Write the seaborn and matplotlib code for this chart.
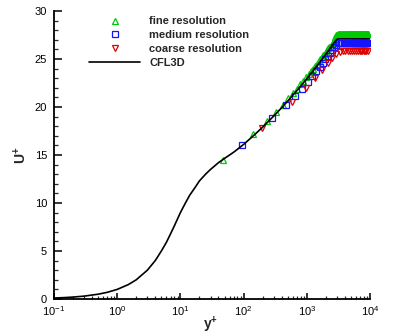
import matplotlib
matplotlib.use("Agg")
import matplotlib.pyplot as plt
import seaborn as sns
import pandas as pd
from matplotlib.ticker import LogLocator, MultipleLocator

# ---------------- data ----------------
cfl3d_yplus = [0.1, 0.15, 0.2, 0.3, 0.5, 0.7, 1.0, 1.5, 2.0, 3.0, 4.0, 5.0, 6.0, 7.0, 8.0,
               10, 12, 14, 17, 20, 25, 30, 40, 50, 70, 100, 150, 200, 300, 400, 500, 700,
               1000, 1300, 1600, 2000, 2400, 2700, 2900, 3000, 3200, 4000, 5000, 7000, 10000]
cfl3d_uplus = [0.1, 0.15, 0.2, 0.3, 0.5, 0.7, 1.0, 1.5, 2.0, 3.0, 4.0, 5.0, 5.9, 6.8, 7.6,
               9.0, 10.0, 10.8, 11.6, 12.3, 13.0, 13.5, 14.2, 14.65, 15.3, 16.1, 17.13, 17.9,
               19.06, 19.92, 20.63, 21.73, 22.95, 23.89, 24.65, 25.5, 26.21, 26.67, 26.96,
               27.05, 27.1, 27.1, 27.1, 27.1, 27.1]

fine_yplus = [47, 140, 233, 326, 419, 512, 605, 698, 791, 884, 977, 1070, 1163, 1256, 1349,
              1442, 1535, 1628, 1721, 1814, 1907, 2000, 2093, 2186, 2279, 2372, 2465, 2558,
              2651, 2744, 2837, 2930, 3023, 3116, 3209, 3302, 3395, 3488, 3581, 3674, 3767,
              3860, 3953, 4046, 4139, 4232, 4325, 4418, 4511, 4604, 4697, 4790, 4883, 4976,
              5069, 5162, 5255, 5348, 5441, 5534, 5627, 5720, 5813, 5906, 5999, 6092, 6185,
              6278, 6371, 6464, 6557, 6650, 6743, 6836, 6929, 7022, 7115, 7208, 7301, 7394,
              7487, 7580, 7673, 7766, 7859, 7952, 8045, 8138, 8231, 8324, 8417, 8510, 8603,
              8696, 8789, 8882, 8975, 9068, 9161, 9254]
fine_uplus = [14.5, 17.2, 18.5, 19.5, 20.2, 20.9, 21.45, 21.9, 22.35, 22.75, 23.1, 23.45,
              23.75, 24.0, 24.3, 24.5, 24.75, 24.95, 25.2, 25.4, 25.55, 25.75, 25.9, 26.1,
              26.25, 26.4, 26.55, 26.7, 26.85, 27.05, 27.25, 27.45, 27.55, 27.6, 27.6, 27.6,
              27.6, 27.6, 27.6, 27.6, 27.6, 27.6, 27.6, 27.6, 27.6, 27.6, 27.6, 27.6, 27.6,
              27.6, 27.6, 27.6, 27.6, 27.6, 27.6, 27.6, 27.6, 27.6, 27.6, 27.6, 27.6, 27.6,
              27.6, 27.6, 27.6, 27.6, 27.6, 27.6, 27.6, 27.6, 27.6, 27.6, 27.6, 27.6, 27.6,
              27.6, 27.6, 27.6, 27.6, 27.6, 27.6, 27.6, 27.6, 27.6, 27.6, 27.6, 27.6, 27.6,
              27.6, 27.6, 27.6, 27.6, 27.6, 27.6, 27.6, 27.6, 27.6, 27.6, 27.6, 27.6]

medium_yplus = [93, 280, 467, 654, 841, 1028, 1215, 1402, 1589, 1776, 1963, 2150, 2337, 2524,
                2711, 2898, 3085, 3272, 3459, 3646, 3833, 4020, 4207, 4394, 4581, 4768, 4955,
                5142, 5329, 5516, 5703, 5890, 6077, 6264, 6451, 6638, 6825, 7012, 7199, 7386,
                7573, 7760, 7947, 8134, 8321, 8508, 8695, 8882, 9069, 9256]
medium_uplus = [16.0, 18.85, 20.2, 21.15, 21.9, 22.6, 23.2, 23.7, 24.2, 24.6, 25.0, 25.35,
                25.65, 25.95, 26.25, 26.5, 26.65, 26.7, 26.7, 26.7, 26.7, 26.7, 26.7, 26.7,
                26.7, 26.7, 26.7, 26.7, 26.7, 26.7, 26.7, 26.7, 26.7, 26.7, 26.7, 26.7, 26.7,
                26.7, 26.7, 26.7, 26.7, 26.7, 26.7, 26.7, 26.7, 26.7, 26.7, 26.7, 26.7, 26.7]

coarse_yplus = [195, 585, 975, 1365, 1755, 2145, 2535, 2925, 3315, 3705, 4095, 4485, 4875,
                5265, 5655, 6045, 6435, 6825, 7215, 7605, 7995, 8385, 8775, 9165]
coarse_uplus = [17.85, 20.55, 21.95, 23.0, 23.85, 24.55, 25.1, 25.5, 25.7, 25.8, 25.8, 25.8,
                25.8, 25.8, 25.8, 25.8, 25.8, 25.8, 25.8, 25.8, 25.8, 25.8, 25.8, 25.8]

labels = ["fine resolution", "medium resolution", "coarse resolution", "CFL3D"]
x_ticks = [0.1, 1, 10, 100, 1000, 10000]
y_ticks = [0, 5, 10, 15, 20, 25, 30]

# ---------------- style ----------------
sns.set_style("ticks")
plt.rcParams["font.family"] = ["Liberation Sans", "DejaVu Sans"]
plt.rcParams["mathtext.fontset"] = "custom"
plt.rcParams["mathtext.rm"] = "Liberation Sans"
plt.rcParams["mathtext.bf"] = "Liberation Sans:bold"
plt.rcParams["mathtext.it"] = "Liberation Sans:italic"

fig = plt.figure(figsize=(3.94, 3.35), dpi=100)
ax = fig.add_axes([54 / 394, 1 - 299 / 335, 316 / 394, 288 / 335])

series = [
    (fine_yplus, fine_uplus, "^", "#00c800"),
    (medium_yplus, medium_uplus, "s", "#1414ff"),
    (coarse_yplus, coarse_uplus, "v", "#dc0000"),
]
for (xs, ys, mk, col), lab in zip(series, labels[:3]):
    df = pd.DataFrame({"yplus": xs, "uplus": ys})
    sns.lineplot(data=df, x="yplus", y="uplus", ax=ax, estimator=None, sort=False,
                 linestyle="", marker=mk, markersize=4.5, markerfacecolor="none",
                 markeredgecolor=col, markeredgewidth=0.9, color=col, label=lab, zorder=2)

df_line = pd.DataFrame({"yplus": cfl3d_yplus, "uplus": cfl3d_uplus})
sns.lineplot(data=df_line, x="yplus", y="uplus", ax=ax, estimator=None, sort=False,
             color="black", linewidth=1.2, label=labels[3], zorder=3)

ax.set_xscale("log")
ax.set_xlim(0.1, 10000)
ax.set_ylim(0, 30)
ax.set_xticks(x_ticks)
ax.xaxis.set_minor_locator(LogLocator(base=10, subs=[2, 3, 4, 5, 6, 7, 8, 9], numticks=20))
ax.set_yticks(y_ticks)
ax.yaxis.set_minor_locator(MultipleLocator(1))

for s in ["top", "right"]:
    ax.spines[s].set_visible(False)
for s in ["left", "bottom"]:
    ax.spines[s].set_linewidth(1.3)
    ax.spines[s].set_color("black")

ax.tick_params(axis="x", which="major", direction="in", length=4.5, width=1.1, pad=3.5,
               labelsize=8, colors="black")
ax.tick_params(axis="x", which="minor", direction="in", length=2.5, width=0.9)
ax.tick_params(axis="y", which="major", direction="in", length=5.5, width=1.1, pad=5,
               labelsize=8, colors="black")
ax.tick_params(axis="y", which="minor", direction="in", length=3, width=0.9)

ax.set_xlabel(r"$\mathbf{y^{+}}$", fontsize=10)
ax.set_ylabel(r"$\mathbf{U^{+}}$", fontsize=10)
ax.xaxis.set_label_coords(0.494, -0.055)
ax.yaxis.set_label_coords(-0.077, 0.5)

leg = ax.legend(loc="upper left", bbox_to_anchor=((89 - 54) / 316, (299 - 16.5) / 288),
                frameon=False, borderpad=0, borderaxespad=0, handlelength=4.6,
                handletextpad=0.8, labelspacing=0.34, numpoints=1,
                prop={"family": "Liberation Sans", "weight": "bold", "size": 8})

fig.savefig("out.png", dpi=100, facecolor="white")
